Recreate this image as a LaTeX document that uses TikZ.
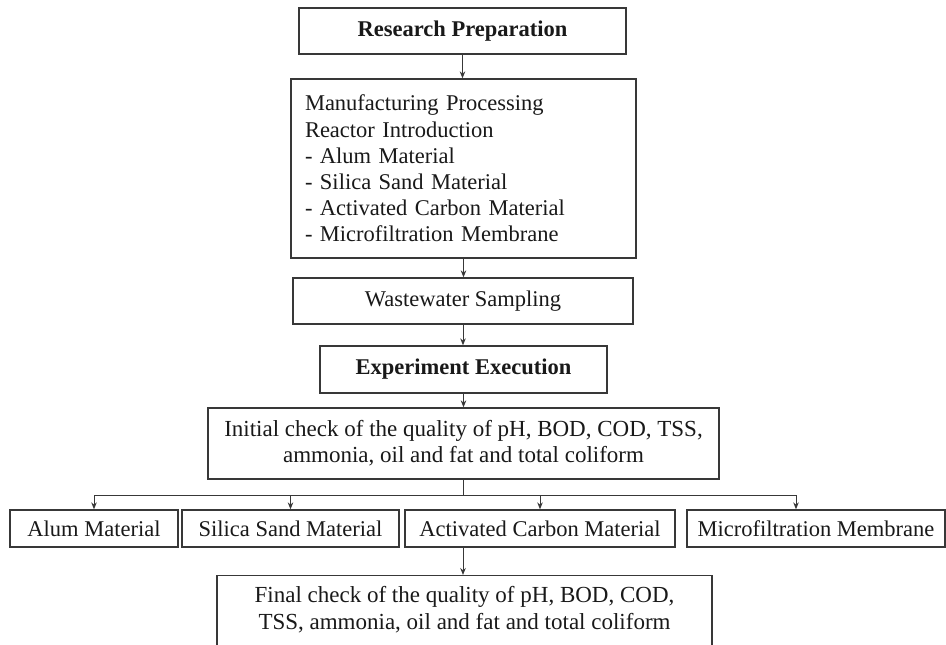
\documentclass[tikz,border=0pt]{standalone}
\usepackage{fontspec}
\setmainfont{Liberation Serif}
\usetikzlibrary{arrows.meta}
\begin{document}
\begin{tikzpicture}[x=1pt,y=-1pt,
  box/.style={draw=black!78, line width=1.3pt, rectangle, inner sep=0pt, align=center, text=black!90, font=\fontsize{22.5}{26.2}\selectfont},
  boldbox/.style={box, font=\fontsize{22.5}{26.2}\selectfont\bfseries},
  arr/.style={draw=black!78, line width=1pt, -{Stealth[length=7pt,width=5.5pt]}},
  ln/.style={draw=black!78, line width=1pt}]
\useasboundingbox (0,0) rectangle (946,645);
\clip (0,0) rectangle (946,645);
\fill[white] (0,0) rectangle (946,645);

\node[boldbox, minimum width=327pt, minimum height=46pt] (rp) at (462.5,31) {Research Preparation};
\node[box, minimum width=345pt, minimum height=179pt, text width=317pt, align=left] (mf) at (463.5,168.5)
  {Manufacturing Processing\\Reactor Introduction\\- Alum Material\\- Silica Sand Material\\- Activated Carbon Material\\- Microfiltration Membrane};
\node[box, minimum width=340pt, minimum height=46pt] (ws) at (463,301) {Wastewater Sampling};
\node[boldbox, minimum width=287pt, minimum height=47pt] (ee) at (463.5,369.5) {Experiment Execution};
\node[box, minimum width=511pt, minimum height=71pt, font=\fontsize{23}{26.2}\selectfont] (ic) at (463.5,443.5)
  {Initial check of the quality of pH, BOD, COD, TSS,\\ammonia, oil and fat and total coliform};

\node[box, minimum width=168pt, minimum height=37pt] (al) at (94,528.5) {Alum Material};
\node[box, minimum width=217pt, minimum height=37pt] (ss) at (290.5,528.5) {Silica Sand Material};
\node[box, minimum width=270pt, minimum height=37pt] (ac) at (540,528.5) {Activated Carbon Material};
\node[box, minimum width=258pt, minimum height=37pt] (mm) at (816,528.5) {Microfiltration Membrane};

\node[box, anchor=north, minimum width=495pt, inner ysep=11pt, font=\fontsize{23}{26.2}\selectfont] (fc) at (464.5,575)
  {Final check of the quality of pH, BOD, COD,\\TSS, ammonia, oil and fat and total coliform\rule[-30pt]{0pt}{30pt}};

\draw[arr] (rp.south) -- (rp.south |- mf.north);
\draw[arr] (mf.south) -- (mf.south |- ws.north);
\draw[arr] (ws.south) -- (ws.south |- ee.north);
\draw[arr] (ee.south) -- (ee.south |- ic.north);
\coordinate (br) at (463,495);
\draw[ln] (ic.south -| br) -- (br);
\draw[arr] (br) -| (al.north);
\draw[arr] (br) -| (ss.north);
\draw[arr] (br) -| (ac.north);
\draw[arr] (br) -| ([xshift=-20pt]mm.north);
\draw[arr] (ac.south -| br) -- (br |- fc.north);
\end{tikzpicture}
\end{document}
